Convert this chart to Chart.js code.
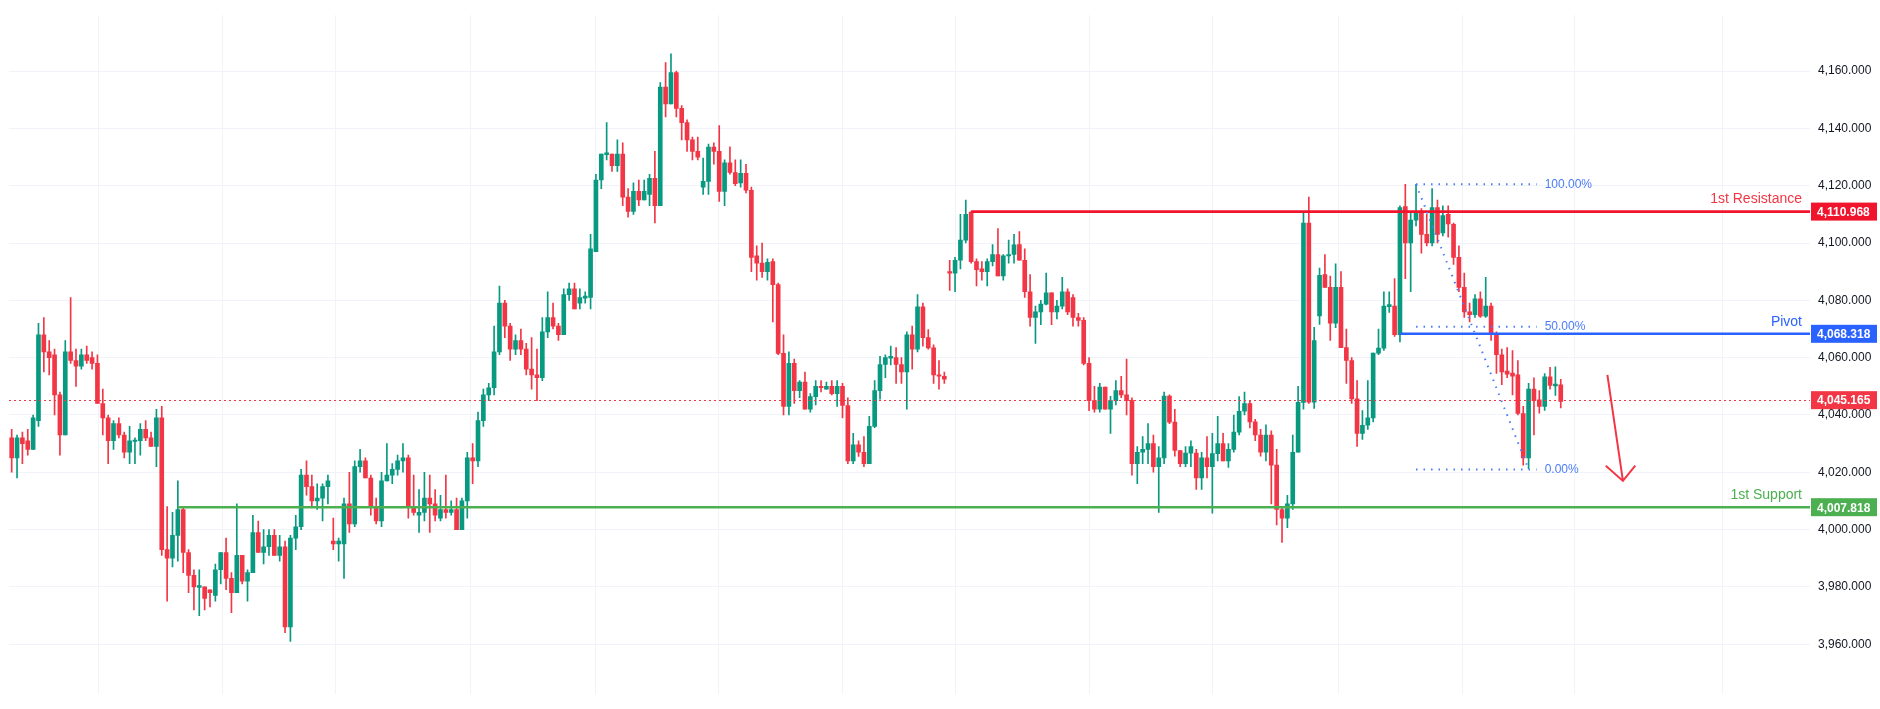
<!DOCTYPE html>
<html>
<head>
<meta charset="utf-8">
<script src="https://cdn.jsdelivr.net/npm/chart.js@4/dist/chart.umd.min.js"></script>
<style>
  html, body { margin: 0; padding: 0; background: #fff; }
  #wrap { width: 1880px; height: 709px; position: relative; }
</style>
</head>
<body>
<div id="wrap"><canvas id="chart"></canvas></div>
<script>
// candles
const opens = [4032,4025,4032,4031,4028,4038,4068,4062,4061,4047,4033,4062,4059,4057,4061,4060,4058,4044,4039,4031,4037,4033,4027,4031,4031,4035,4032,4029,4039,
  3993,3990,3998,4007,3992,3984,3980,3980,3979,3977,3986,3992,3983,3978,3991,3982,3985,3999,3992,3994,3998,3991,3994,3966,3997,4001,4019,4015,4010,4011,4015,
  3996,3995,3995,4009,4002,4022,4024,4018,4008,4003,4017,4019,4021,4024,4025,4008,4005,4006,4011,4009,4004,4007,4006,4007,4000,4010,4025,
  4024,4038,4047,4049.5,4062,4079,4071,4063,4066,4063,4056,4054,4053,4069,4074,4071,4068,4082,4084,4079,4081,4081,4097,4122,4131,4131,4127,4131,4116,4111,4118,4115,
  4117,4122.6,4113,4154.4,4148.5,4159.5,4147,4142,4136,4132,4119.5,4121.5,4133.5,4132,4118,4128,4124.6,4121,4124.3,4118.4,4095.5,4093,4090,4093.5,4085.5,4061.5,
  4043,4058,4048.5,4051.5,4042,4046.4,4050,4049,4050,4047.4,4050,4043.3,4024,4029.6,4027,4023,4036,4048.5,4057.6,4060,4060,4057.6,4055,4068,4063,4077.7,4067,
  4063.4,4054,4053.5,4090,4089.5,4094,4101,
  4110.8,4093.5,4091,4090,4093.5,4096,4088.5,4095.5,4096,4099.5,4094,4083,4074,4076,4078.7,4082.6,4076,4078,4083,4081,4074,4073,4058,4045,4042,4049.7,4042,
  4045,4048.5,4047,4045,4023,4027,4028,4030,4022,4025,4046.6,4037.5,4027.6,4023,4026.7,4026.7,4018,4025,4022,4026.5,4030,4024,4028,4034,4041.3,4044,4037.6,
  4033,4027,4033,4022.5,4007,4004,4009,4027,4044.4,4107,4044.5,
  4074.6,4089,4084.5,4072,4084.5,4063.5,4059,4045.6,4033.6,4036.4,4039,4061.6,4063.3,4078,4078,4068,4112.7,4100,4108,4111,4103,4100,4112.4,4103.5,
  4110,4106.5,4095,4084.5,4076,4075,4080.5,4074.5,4078,4068,4061,4055.3,4054.6,4054,4040.5,4025,4049,4045.3,4043,4053.3,4050.3,4050.5];
const highs = [4035,4033,4034,4035,4040,4072,4074,4066,4063,4048,4066,4081,4063,4063,4064,4062,4061,4049,4040,4038,4039,4034,4036,4032,4037,4038,4034,4042,4043,
  4008,4006,4017,4008,3993,3986,3986,3980,3979,3988,3992,3997,3985,4009,3991,3986,4005,4003,4000,4000,4000,3998,3996,3998,4005,4021,4024,4019,4016,4016,4019,
  4004,3997,4011,4020,4024,4028,4025,4019,4011,4020,4030,4023,4026,4030,4026,4019,4014,4020,4019,4014,4012,4019,4010,4011,4011,4027,4030,
  4041,4049,4051,4071,4085,4080,4072,4068,4070,4065,4067,4063,4074,4083,4079,4072,4084,4086,4086,4084,4083,4103,4124,4131,4142,4131,4136,4135,4119,4121,4122,4122,
  4124,4132,4156,4163,4166,4160,4148,4143,4137,4137,4129.6,4134.5,4135,4141,4129,4133.6,4129,4129,4127.5,4119.5,4099,4100,4094.5,4094.5,4086,4068,
  4062,4059.5,4052,4055,4047.5,4052,4052,4051.5,4052,4052,4051,4046,4033.6,4031,4032.5,4039.5,4052,4060.5,4061,4064,4063.5,4060,4069,4071,4082,4079,
  4069.8,4064.5,4059,4055,4094,4095,4110,4115,
  4111,4094.5,4093.5,4094.5,4099.5,4105,4096,4101,4103,4104,4098,4089,4078,4080,4089.5,4082.6,4080,4088,4084,4082,4075.5,4074,4060,4050,4051,4049.7,4046.5,
  4052,4053.5,4059.5,4046,4029,4032.5,4037,4033,4029,4048,4047,4042,4027.6,4029,4031,4028,4027,4032.5,4033.6,4039.5,4033.6,4030,4040,4046.4,4048,4045,4038.5,
  4035,4036.6,4034.5,4028,4008,4012,4033,4050,4111,4116,4070.6,
  4091.3,4096,4088.5,4092.7,4090,4070,4060,4052,4041.5,4052,4061.6,4070,4083,4083,4087.6,4113,4120.5,4111,4120.5,4112,4110,4119,4115,4113,
  4113,4107,4099,4089.5,4079,4082,4083,4088,4079,4069,4063,4063.5,4062.5,4059,4043,4051,4053,4048.5,4054.4,4056.6,4056.8,4052.4];
const lows = [4020,4018,4023,4026,4028,4036,4055,4054,4040,4026,4033,4058,4050,4056,4058,4056,4044,4033,4023,4028,4032,4025,4023,4023,4026,4031,4029,4022,3991,
  3975,3987,3989,3985,3978,3972,3970,3972,3973,3975,3981,3979,3971,3978,3981,3975,3985,3992,3988,3991,3991,3989,3964,3961,3993,4000,4012,4008,4007,4003,4009,
  3993,3989,3983,3999,4001,4020,4018,4005,4002,4001,4017,4016,4019,4020,4004,4005,3999,4003,3999,4003,4003,4004,4005,4000,4000,4004,4016,
  4022,4036,4045,4047,4061,4067,4059,4061,4061,4054,4049,4045,4052,4067,4070,4066,4068,4080,4077,4077,4079,4077,4097,4119,4129,4125,4125,4113,4109,4110,4113,4115,
  4113,4107,4113,4144,4148.5,4144,4136,4132,4129,4129,4117,4117,4127.5,4114.5,4113,4124,4120,4119.5,4117.5,4090,4087,4088,4087,4072.5,4061,4040,
  4040,4044,4046,4042,4041,4043.5,4048,4049,4047,4043,4039,4023,4023,4025.5,4022,4023,4035.6,4045.5,4053,4057.5,4051,4051,4042,4056,4062,4064,
  4063,4051,4049,4051,4083.5,4083,4091,4100,
  4093,4085,4087,4085,4092,4088.5,4087,4093,4093,4094,4081,4071,4065,4071.5,4078.4,4071.5,4073.5,4077,4075,4071,4071,4057.5,4041.5,4041,4041,4042,4033.6,
  4043.5,4046,4040,4019,4016,4023,4023,4020,4006,4023,4037,4025.6,4022,4022,4022,4014,4014,4018,4005.7,4024,4024,4021.7,4027,4033,4040,4035.5,4031,
  4025.6,4024,4009,4001.6,3995.5,4000.7,4007,4027,4042,4044,4042.3,
  4071.6,4084.5,4066,4070.5,4063.5,4051,4044,4029,4031.5,4035,4037.6,4061,4062.5,4075.8,4067.4,4065.5,4087.6,4083,4106,4096.5,4099,4099,4100,4102.5,
  4102,4092.5,4083,4074,4072.5,4074,4074,4074,4066,4054.5,4050.6,4053,4047,4040,4022.5,4021.3,4033,4040.6,4041.6,4049,4046.8,4042.5];
const closes = [4025,4032,4030,4028,4039,4068,4062,4060,4047,4033,4062,4059,4057,4061,4059,4058,4044,4039,4031,4037,4033,4027,4031,4031,4035,4032,4029,4039,3993,
  3990,3998,4007,3992,3984,3980,3980.3,3976,3978,3986,3992,3983,3978,3991,3982,3985,3999,3992,3994,3998,3991,3994,3966,3997,4001,4019,4015,4010,4011,4015,4017,
  3995,3996,4009,4002,4022,4024,4018,4008,4003,4017,4019,4021,4024,4025,4008,4006,4006,4011,4009,4005,4007,4006,4007,4000,4010,4025,4024,
  4038,4047,4049.5,4062,4079,4071,4063,4066,4063,4056,4054,4053,4069,4074,4071,4068,4082,4084,4077,4081,4081.3,4098,4122,4131,4131.3,4127,4131,4116,4111,4118,4115,4118,
  4122.6,4113,4154.4,4148.5,4159.5,4147,4142,4136,4132,4130,4121.5,4133.5,4132,4118,4128,4124.6,4120.7,4124.3,4118.4,4095,4093,4090,4093.3,4085.5,4061.5,4043,
  4058,4048.5,4051.5,4042,4046.4,4050,4049.5,4050,4047.4,4050,4043.3,4024,4029.6,4027,4023,4036,4048.5,4057.6,4060,4060.3,4057.6,4055,4068,4063,4077.7,4067,
  4063.4,4054,4053.5,4052.5,4089.5,4094,4101,4110,
  4093.5,4090.7,4090,4093.5,4096,4088.5,4095.5,4096,4099.4,4094,4083,4074,4076,4078.7,4082.6,4076,4078,4083,4076,4074,4073,4058,4045,4042,4049.7,4042,4045,
  4048.5,4047,4045,4023,4027,4028,4030,4022,4025,4046.6,4037.5,4027.6,4023,4026.7,4029,4018,4025,4022,4026.5,4030,4024,4028,4034,4041.3,4044,4037.6,4033,
  4027,4033,4022.5,4007,4004,4009,4027,4044.4,4107,4044.5,4066,
  4088.7,4084.5,4072,4084.5,4063.5,4059,4045.6,4033.6,4036.4,4039,4061.6,4063.3,4078,4078.3,4068,4112.4,4100,4108,4111,4103,4100,4112.4,4103,4109.6,
  4106.7,4095,4084.5,4076,4075,4080.5,4074.5,4078,4068,4061,4055,4054.2,4053.5,4040.5,4025,4049,4045,4043,4053.3,4050.3,4050.6,4044.7];

const emptySlots = 46;
const yTicks = [3960, 3980, 4000, 4020, 4040, 4060, 4080, 4100, 4120, 4140, 4160];
const gridIdx = [16.1, 39.2, 60.4, 85.5, 108.8, 131.7, 155, 176, 201, 224, 247.5, 270.5, 291.5, 319];

// horizontal levels
const levelNames = ['1st Resistance', 'Pivot', '1st Support'];
const levelValues = [4110.968, 4068.318, 4007.818];
const levelStart = [179, 259, 31];
const levelColors = ['#f0142d', '#2962ff', '#4caf50'];
const lastPrice = 4045.165;

// fib retracement
const fibHigh = { idx: 262, price: 4120.5 };
const fibLow = { idx: 283, price: 4021 };
const fibEnd = 284.5;
const fibLevels = [1, 0.5, 0];
const fibLabels = ['100.00%', '50.00%', '0.00%'];

// arrow
const arrowX = [297.7, 300.6];
const arrowY = [4054, 4017];
const arrowHeadX = [297.4, 302.9];
const arrowHeadY = [4022.3, 4022.3];

const up = '#089981', down = '#f23645';
const n = Math.min(opens.length, highs.length, lows.length, closes.length);
const labels = Array.from({ length: n + emptySlots }, (_, i) => i);
const wicks = closes.slice(0, n).map((c, i) => [lows[i], highs[i]]);
const bodies = closes.slice(0, n).map((c, i) => {
  let a = Math.min(opens[i], c), b = Math.max(opens[i], c);
  if (b - a < 0.4) { a -= 0.2; b += 0.2; }
  return [a, b];
});
const colors = closes.slice(0, n).map((c, i) => c >= opens[i] ? up : down);

const fmt = v => v.toLocaleString('en-US', { minimumFractionDigits: 3, maximumFractionDigits: 3 });
const font = '"Liberation Sans", Arial, sans-serif';

const overlay = {
  id: 'overlay',
  beforeDatasetsDraw(chart) {
    const { ctx, chartArea: ca, scales: { x } } = chart;
    ctx.save();
    ctx.strokeStyle = '#f0f3fa';
    ctx.lineWidth = 1;
    gridIdx.forEach(g => {
      const px = Math.round(x.getPixelForValue(g)) + 0.5;
      ctx.beginPath(); ctx.moveTo(px, ca.top); ctx.lineTo(px, ca.bottom); ctx.stroke();
    });
    ctx.restore();
  },
  afterDatasetsDraw(chart) {
    const { ctx, chartArea: ca, scales: { x, y } } = chart;
    ctx.save();
    // last price dotted
    const ly = Math.round(y.getPixelForValue(lastPrice)) + 0.5;
    ctx.strokeStyle = down; ctx.lineWidth = 1; ctx.setLineDash([2, 3]);
    ctx.beginPath(); ctx.moveTo(ca.left, ly); ctx.lineTo(ca.right, ly); ctx.stroke();
    ctx.setLineDash([]);

    // levels
    ctx.font = '14px ' + font;
    ctx.textAlign = 'right'; ctx.textBaseline = 'bottom';
    levelValues.forEach((v, i) => {
      const py = y.getPixelForValue(v);
      const px = x.getPixelForValue(levelStart[i]);
      ctx.strokeStyle = levelColors[i]; ctx.lineWidth = 2.6;
      ctx.beginPath(); ctx.moveTo(px, py); ctx.lineTo(ca.right, py); ctx.stroke();
      ctx.fillStyle = i === 0 ? down : levelColors[i];
      ctx.fillText(levelNames[i], ca.right - 8, py - 5);
    });

    // fib
    const fx0 = x.getPixelForValue(fibHigh.idx), fx1 = x.getPixelForValue(fibEnd);
    ctx.strokeStyle = '#4a7cf7'; ctx.lineWidth = 2; ctx.setLineDash([1.5, 6]);
    ctx.font = '12px ' + font;
    ctx.textAlign = 'left'; ctx.textBaseline = 'middle';
    fibLevels.forEach((f, i) => {
      const p = fibLow.price + (fibHigh.price - fibLow.price) * f;
      const py = y.getPixelForValue(p);
      ctx.beginPath(); ctx.moveTo(fx0, py); ctx.lineTo(fx1, py); ctx.stroke();
      ctx.fillStyle = '#4a7cf7';
      ctx.fillText(fibLabels[i], fx1 + 8, py);
    });
    ctx.beginPath();
    ctx.moveTo(fx0, y.getPixelForValue(fibHigh.price));
    ctx.lineTo(x.getPixelForValue(fibLow.idx), y.getPixelForValue(fibLow.price));
    ctx.stroke();
    ctx.setLineDash([]);

    // arrow
    ctx.strokeStyle = down; ctx.lineWidth = 2;
    ctx.beginPath();
    ctx.moveTo(x.getPixelForValue(arrowX[0]), y.getPixelForValue(arrowY[0]));
    ctx.lineTo(x.getPixelForValue(arrowX[1]), y.getPixelForValue(arrowY[1]));
    ctx.moveTo(x.getPixelForValue(arrowHeadX[0]), y.getPixelForValue(arrowHeadY[0]));
    ctx.lineTo(x.getPixelForValue(arrowX[1]), y.getPixelForValue(arrowY[1]));
    ctx.lineTo(x.getPixelForValue(arrowHeadX[1]), y.getPixelForValue(arrowHeadY[1]));
    ctx.stroke();
    ctx.restore();
  },
  afterDraw(chart) {
    const { ctx, chartArea: ca, scales: { y } } = chart;
    ctx.save();
    ctx.font = 'bold 12px ' + font;
    ctx.textAlign = 'left'; ctx.textBaseline = 'middle';
    const boxes = [[levelValues[0], '#f0142d'], [levelValues[1], '#2962ff'], [lastPrice, down], [levelValues[2], '#4caf50']];
    boxes.forEach(([v, c]) => {
      const py = y.getPixelForValue(v);
      ctx.fillStyle = c;
      ctx.fillRect(ca.right + 1, py - 9, 66, 18);
      ctx.fillStyle = '#fff';
      ctx.fillText(fmt(v), ca.right + 7, py + 1);
    });
    ctx.restore();
  }
};

new Chart(document.getElementById('chart'), {
  type: 'bar',
  data: {
    labels: labels,
    datasets: [
      { data: wicks, backgroundColor: colors, barThickness: 1, grouped: false, order: 2 },
      { data: bodies, backgroundColor: colors, barThickness: 4, grouped: false, order: 1, minBarLength: 1 }
    ]
  },
  options: {
    responsive: true,
    maintainAspectRatio: false,
    animation: false,
    layout: { padding: { left: 9, right: 0, top: 0, bottom: 0 } },
    plugins: { legend: { display: false }, tooltip: { enabled: false } },
    scales: {
      x: { display: false, offset: true },
      y: {
        position: 'right',
        min: 3942.7,
        max: 4179.5,
        afterBuildTicks: s => { s.ticks = yTicks.map(v => ({ value: v })); },
        afterFit: s => { s.width = 70; },
        grid: { color: '#f0f3fa', drawTicks: false },
        border: { display: false },
        ticks: {
          padding: 8,
          color: '#131722',
          font: { size: 12, family: font },
          callback: v => fmt(v)
        }
      }
    }
  },
  plugins: [overlay]
});
</script>
</body>
</html>
